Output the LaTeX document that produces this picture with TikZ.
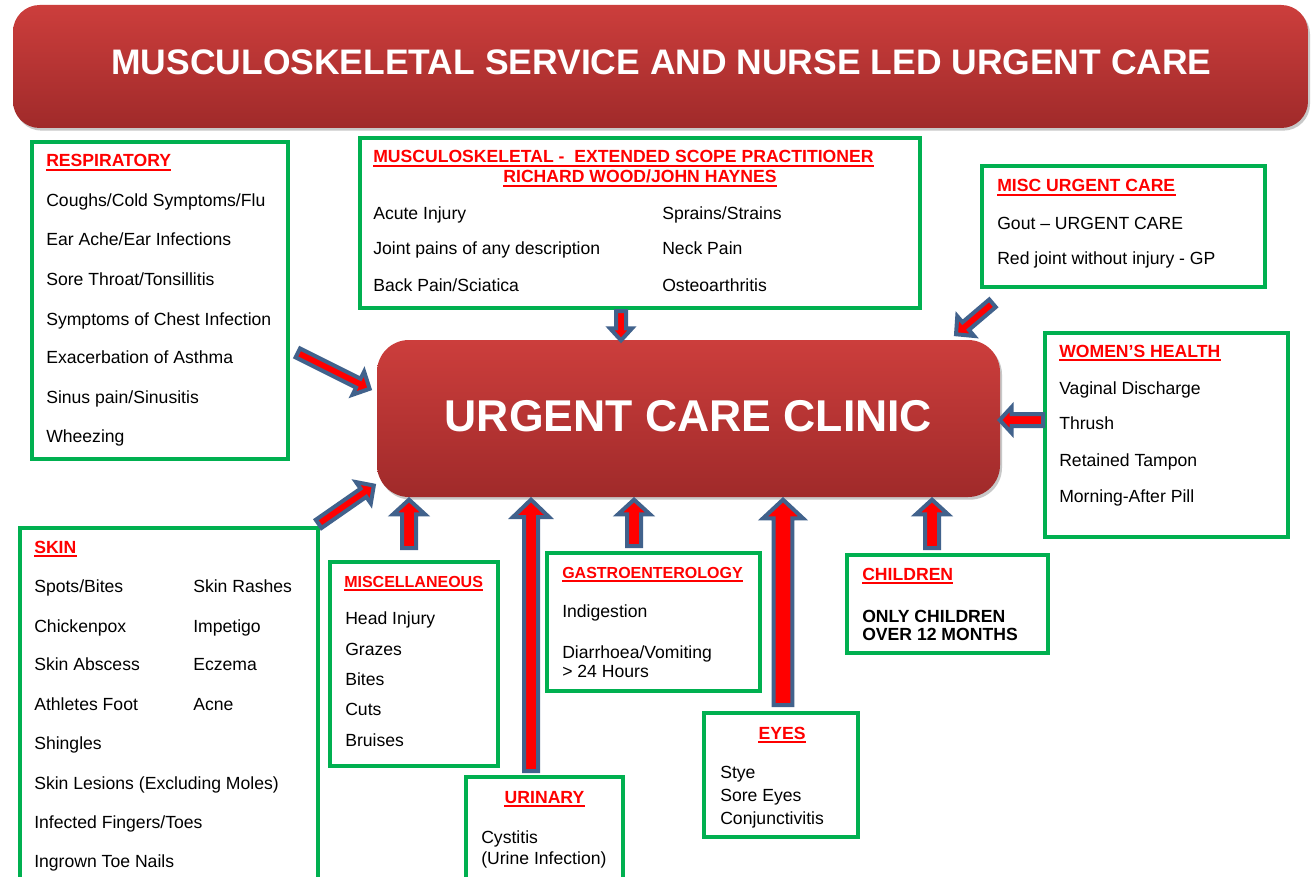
\documentclass[tikz,border=0pt]{standalone}
\usepackage{fontspec}
\setmainfont{Liberation Sans}
\usetikzlibrary{calc,shadows,fit}
\definecolor{boxgreen}{HTML}{00B050}
\definecolor{arrblue}{HTML}{41628C}
\definecolor{redtop}{RGB}{204,62,60}
\definecolor{redbot}{RGB}{160,42,42}
\definecolor{headred}{HTML}{FF0000}
\tikzset{
  gbox/.style={draw=boxgreen, line width=3pt, inner sep=0pt, fill=white},
  item/.style={inner sep=0pt, anchor=base west, text=black, font=\fontsize{13.2}{15}\selectfont},
  bolditem/.style={item, font=\fontsize{13.2}{15}\selectfont\bfseries},
  headtxt/.style={inner sep=0pt, anchor=base west, text=headred, font=\fontsize{13.2}{15}\selectfont\bfseries},
  smallhead/.style={headtxt, font=\fontsize{12}{14}\selectfont\bfseries},
  uline/.style={draw=headred, line width=1.6pt},
  barrow/.style={draw=arrblue, fill=red, line width=3pt, line join=miter},
  redbox/.style={rounded corners=20pt, top color=redtop, bottom color=redbot, draw=none,
     drop shadow={shadow xshift=1.5pt, shadow yshift=-2pt, opacity=0.3, fill=black!70}},
}
\newcommand\itm[4]{\node[item] (#1) at (#2,#3) {#4};}
\newcommand\bitm[4]{\node[bolditem] (#1) at (#2,#3) {#4};}
\newcommand\ul[1]{\draw[uline] ($(#1.base west)+(0,3.2)$) -- ($(#1.base east)+(0,3.2)$);}
\newcommand\hd[4]{\node[headtxt] (#1) at (#2,#3) {#4};\ul{#1}}
\newcommand\shd[4]{\node[smallhead] (#1) at (#2,#3) {#4};\ul{#1}}
\newcommand\chd[4]{\node[headtxt, anchor=base] (#1) at (#2,#3) {#4};\ul{#1}}
% name, from, to, half shaft, half head, head length
\newcommand\blockarrow[6]{%
  \coordinate (#1a) at ($(#2)!1.5pt!(#3)$);
  \coordinate (#1b) at ($(#3)!2pt!(#2)$);
  \coordinate (#1h) at ($(#1b)!#6!(#1a)$);
  \draw[barrow] ($(#1a)!#4!-90:(#1b)$) -- ($(#1h)!#4!-90:(#1b)$) -- ($(#1h)!#5!-90:(#1b)$)
     -- (#1b) -- ($(#1h)!#5!90:(#1b)$) -- ($(#1h)!#4!90:(#1b)$) -- ($(#1a)!#4!90:(#1b)$) -- cycle;}

\begin{document}
\begin{tikzpicture}[x=0.75pt,y=-0.75pt]
\useasboundingbox (0,0) rectangle (1312,877);
\fill[white] (0,0) rectangle (1312,877);

% title banner
\node[redbox, fit={(13,5)(1308,128)}, inner sep=0pt] (title) {};
\node[anchor=base, text=white, font=\fontsize{26.6}{30}\selectfont\bfseries, inner sep=0pt] (titletxt) at (661.5,75) {MUSCULOSKELETAL SERVICE AND NURSE LED URGENT CARE};

% clinic
\node[redbox, rounded corners=24pt, fit={(377,340)(1000,497)}, inner sep=0pt] (clinic) {};
\node[anchor=base, text=white, font=\fontsize{33.4}{40}\selectfont\bfseries, inner sep=0pt] (clinictxt) at (688.5,431) {URGENT CARE CLINIC};

% respiratory
\node[gbox, fit={(32,142)(288,459)}] (resp) {};
\hd{resph}{46}{167}{RESPIRATORY}
\itm{r1}{46}{206.5}{Coughs/Cold Symptoms/Flu}
\itm{r2}{46}{245.5}{Ear Ache/Ear Infections}
\itm{r3}{46}{285.5}{Sore Throat/Tonsillitis}
\itm{r4}{46}{325.5}{Symptoms of Chest Infection}
\itm{r5}{46}{363.5}{Exacerbation of Asthma}
\itm{r6}{46}{403.5}{Sinus pain/Sinusitis}
\itm{r7}{46}{442.5}{Wheezing}

% musculoskeletal
\node[gbox, fit={(360,138)(920,308)}] (msk) {};
\hd{mskh1}{373}{163}{MUSCULOSKELETAL -\ \ EXTENDED SCOPE PRACTITIONER}
\chd{mskh2}{640}{183}{RICHARD WOOD/JOHN HAYNES}
\itm{m1}{373}{219.5}{Acute Injury}
\itm{m2}{373}{254.5}{Joint pains of any description}
\itm{m3}{373}{291.5}{Back Pain/Sciatica}
\itm{m4}{662}{219.5}{Sprains/Strains}
\itm{m5}{662}{254.5}{Neck Pain}
\itm{m6}{662}{291.5}{Osteoarthritis}

% misc urgent care
\node[gbox, fit={(982,166)(1265,287)}] (muc) {};
\hd{much}{997}{192}{MISC URGENT CARE}
\itm{mu1}{997}{229}{Gout -- URGENT CARE}
\itm{mu2}{997}{264}{Red joint without injury - GP}

% women's health
\node[gbox, fit={(1045,333)(1288,537)}] (women) {};
\hd{womenh}{1059}{357}{WOMEN’S HEALTH}
\itm{w1}{1059}{394}{Vaginal Discharge}
\itm{w2}{1059}{429}{Thrush}
\itm{w3}{1059}{466}{Retained Tampon}
\itm{w4}{1059}{502}{Morning-After Pill}

% skin
\node[gbox, fit={(20,528)(318,884)}] (skin) {};
\hd{skinh}{34}{553}{SKIN}
\itm{s1}{34}{592.5}{Spots/Bites}
\itm{s2}{34}{632.5}{Chickenpox}
\itm{s3}{34}{670.5}{Skin Abscess}
\itm{s4}{34}{710.5}{Athletes Foot}
\itm{s5}{34}{749.5}{Shingles}
\itm{s6}{34}{789.5}{Skin Lesions (Excluding Moles)}
\itm{s7}{34}{828.5}{Infected Fingers/Toes}
\itm{s8}{34}{867.5}{Ingrown Toe Nails}
\itm{s9}{193}{592.5}{Skin Rashes}
\itm{s10}{193}{632.5}{Impetigo}
\itm{s11}{193}{670.5}{Eczema}
\itm{s12}{193}{710.5}{Acne}

% miscellaneous
\node[gbox, fit={(330,562)(498,766)}] (misc) {};
\shd{misch}{344}{587}{MISCELLANEOUS}
\itm{mi1}{345}{624.5}{Head Injury}
\itm{mi2}{345}{655}{Grazes}
\itm{mi3}{345}{685}{Bites}
\itm{mi4}{345}{715}{Cuts}
\itm{mi5}{345}{746}{Bruises}

% urinary
\node[gbox, fit={(466,777)(623,884)}] (urin) {};
\chd{urinh}{544.5}{803}{URINARY}
\itm{u1}{481}{843}{Cystitis}
\itm{u2}{481}{864}{(Urine Infection)}

% gastroenterology
\node[gbox, fit={(547,553)(760,691)}] (gastro) {};
\shd{gastroh}{562}{578}{GASTROENTEROLOGY}
\itm{g1}{562}{617}{Indigestion}
\itm{g2}{562}{658}{Diarrhoea/Vomiting}
\itm{g3}{562}{677}{> 24 Hours}

% eyes
\node[gbox, fit={(704,713)(858,837)}] (eyes) {};
\chd{eyesh}{782}{739}{EYES}
\itm{e1}{720}{778}{Stye}
\itm{e2}{720}{801}{Sore Eyes}
\itm{e3}{720}{824}{Conjunctivitis}

% children
\node[gbox, fit={(847,555)(1048,653)}] (child) {};
\hd{childh}{862}{580}{CHILDREN}
\bitm{c1}{862}{622}{ONLY CHILDREN}
\bitm{c2}{862}{640}{OVER 12 MONTHS}

% arrow end points
\coordinate (aresp1) at (296,352);  \coordinate (aresp2) at (372,390);
\coordinate (amsk1) at (621,309);   \coordinate (amsk2) at (621,343);
\coordinate (amuc1) at (994,302);   \coordinate (amuc2) at (954,336);
\coordinate (awom1) at (1045,420);  \coordinate (awom2) at (997,420);
\coordinate (askin1) at (317,525);  \coordinate (askin2) at (376,484);
\coordinate (amisc1) at (409,550);  \coordinate (amisc2) at (409,497);
\coordinate (aurin1) at (531,773);  \coordinate (aurin2) at (531,497);
\coordinate (agas1) at (634,548);   \coordinate (agas2) at (634,497);
\coordinate (aeye1) at (783,707);   \coordinate (aeye2) at (783,497);
\coordinate (achd1) at (932,550);   \coordinate (achd2) at (932,497);

\blockarrow{arrresp}{aresp1}{aresp2}{3.75pt}{9.75pt}{9.5pt}
\blockarrow{arrmsk}{amsk1}{amsk2}{3.75pt}{8.25pt}{9pt}
\blockarrow{arrmuc}{amuc1}{amuc2}{3.75pt}{9.75pt}{9.5pt}
\blockarrow{arrwom}{awom1}{awom2}{4.5pt}{9.75pt}{9pt}
\blockarrow{arrskin}{askin1}{askin2}{3.75pt}{9.75pt}{9.5pt}
\blockarrow{arrmisc}{amisc1}{amisc2}{5.25pt}{12pt}{11pt}
\blockarrow{arrurin}{aurin1}{aurin2}{5.25pt}{13.5pt}{13pt}
\blockarrow{arrgas}{agas1}{agas2}{5.25pt}{12pt}{11pt}
\blockarrow{arreye}{aeye1}{aeye2}{7.1pt}{15pt}{14pt}
\blockarrow{arrchd}{achd1}{achd2}{5.25pt}{12pt}{11pt}
\end{tikzpicture}
\end{document}
